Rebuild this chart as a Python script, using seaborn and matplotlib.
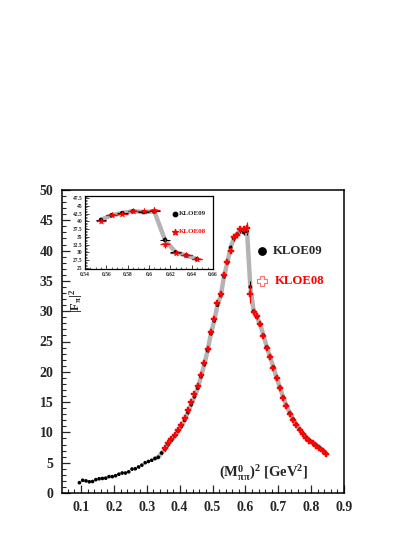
import numpy as np
import pandas as pd
import matplotlib
matplotlib.use("Agg")
import matplotlib.pyplot as plt
import seaborn as sns
from matplotlib.ticker import MultipleLocator, FixedLocator

# ---- data ----
x_low = [0.095, 0.105, 0.115, 0.125, 0.135, 0.145, 0.155, 0.165, 0.175, 0.185,
         0.195, 0.205, 0.215, 0.225, 0.235, 0.245, 0.255, 0.265, 0.275, 0.285,
         0.295, 0.305, 0.315, 0.325, 0.335, 0.345]
f09_low = [1.7, 2.1, 2.0, 1.85, 1.9, 2.2, 2.35, 2.4, 2.45, 2.7,
           2.7, 2.85, 3.1, 3.3, 3.3, 3.5, 3.95, 4.0, 4.3, 4.6,
           5.0, 5.2, 5.4, 5.7, 5.9, 6.6]

x_high = [0.355, 0.365, 0.375, 0.385, 0.395, 0.405, 0.415, 0.425, 0.435, 0.445,
          0.455, 0.465, 0.475, 0.485, 0.495, 0.505, 0.515, 0.525, 0.535, 0.545,
          0.555, 0.565, 0.575, 0.585, 0.595, 0.605, 0.615, 0.625, 0.635, 0.645,
          0.655, 0.665, 0.675, 0.685, 0.695, 0.705, 0.715, 0.725, 0.735, 0.745,
          0.755, 0.765, 0.775, 0.785, 0.795, 0.805, 0.815, 0.825, 0.835, 0.845]
f08_high = [7.4, 8.2, 8.9, 9.6, 10.4, 11.3, 12.4, 13.7, 15.0, 16.3,
            17.6, 19.5, 21.4, 23.8, 26.6, 28.7, 31.3, 32.8, 36.0, 38.2,
            40.0, 42.2, 42.5, 43.5, 43.5, 43.7, 32.8, 29.8, 29.2, 27.9,
            25.9, 24.0, 22.4, 20.7, 18.9, 17.3, 15.7, 14.3, 13.1, 12.1,
            11.2, 10.4, 9.7, 9.1, 8.6, 8.2, 7.8, 7.4, 7.0, 6.4]
f09_high = [7.2, 8.0, 8.7, 9.4, 10.2, 11.0, 12.0, 13.3, 14.6, 15.9,
            17.3, 19.2, 21.2, 23.5, 26.3, 28.4, 31.0, 32.6, 35.7, 38.0,
            40.5, 42.0, 42.7, 43.3, 43.0, 43.2, 34.0, 30.0, 29.0, 27.8,
            26.0, 24.1, 22.5, 20.8, 19.0, 17.4, 15.8, 14.4, 13.2, 12.2,
            11.3, 10.5, 9.8, 9.2, 8.7, 8.3, 7.9, 7.5, 7.1, 6.5]
err08_high = [0.25] * 20 + [0.4, 0.4, 0.4, 0.5, 0.5, 1.0, 1.5, 0.5, 0.4, 0.4] + [0.25] * 20
err09_high = [0.2] * 20 + [0.4, 0.4, 0.4, 0.4, 0.4, 0.6, 1.0, 0.4, 0.3, 0.3] + [0.2] * 20
err09_low = [0.1] * 26

xticks_main = [0.1, 0.2, 0.3, 0.4, 0.5, 0.6, 0.7, 0.8, 0.9]
yticks_main = [0, 5, 10, 15, 20, 25, 30, 35, 40, 45, 50]
yticks_inset = [25, 27.5, 30, 32.5, 35, 37.5, 40, 42.5, 45, 47.5]
xticks_inset = [0.54, 0.56, 0.58, 0.6, 0.62, 0.64, 0.66]

x09 = x_low + x_high
f09 = f09_low + f09_high
e09 = err09_low + err09_high
df09 = pd.DataFrame({"x": x09, "F": f09, "err": e09})
df08 = pd.DataFrame({"x": x_high, "F": f08_high, "err": err08_high})

# ---- style ----
sns.set_style("white")
plt.rcParams["font.family"] = ["Liberation Serif", "DejaVu Serif"]
plt.rcParams["font.weight"] = "bold"
plt.rcParams["mathtext.fontset"] = "custom"
plt.rcParams["mathtext.rm"] = "Liberation Serif:bold"
plt.rcParams["mathtext.it"] = "Liberation Serif:bold"
plt.rcParams["mathtext.bf"] = "Liberation Serif:bold"

fig = plt.figure(figsize=(4.14, 5.35), dpi=100)
ax = fig.add_axes([62 / 414, 1 - 493 / 535, 282 / 414, 303 / 535])

GRAY = "#b4b4b4"
RED = "#ff0000"


def draw(axis, d09, d08, ms09, ms08, star=False, band_from=0.0):
    band = d09[d09["x"] >= band_from]
    sns.lineplot(data=band, x="x", y="F", ax=axis, color=GRAY, lw=3.2,
                 legend=False, zorder=1, sort=True)
    axis.errorbar(d09["x"], d09["F"], yerr=d09["err"], xerr=0.005 if star else None,
                  fmt="none", ecolor="black", elinewidth=0.8, zorder=2)
    sns.scatterplot(data=d09, x="x", y="F", ax=axis, color="black", s=ms09,
                    edgecolor="none", legend=False, zorder=3)
    axis.errorbar(d08["x"], d08["F"], yerr=d08["err"], xerr=0.005 if star else None,
                  fmt="none", ecolor=RED, elinewidth=0.9, zorder=4)
    sns.scatterplot(data=d08, x="x", y="F", ax=axis, color=RED,
                    marker="*" if star else "P", s=ms08, edgecolor=RED,
                    linewidth=0.3, legend=False, zorder=5)


draw(ax, df09, df08, 7, 22, band_from=0.32)
ax.set_xlim(0.042, 0.9)
ax.set_ylim(0, 50)
ax.xaxis.set_major_locator(FixedLocator(xticks_main))
ax.xaxis.set_minor_locator(MultipleLocator(0.02))
ax.yaxis.set_major_locator(FixedLocator(yticks_main))
ax.yaxis.set_minor_locator(MultipleLocator(1))
ax.set_xticklabels([f"{t:g}" for t in xticks_main])
ax.set_yticklabels([f"{t:g}" for t in yticks_main])
ax.tick_params(axis="both", which="major", direction="in", length=6, width=0.9,
               labelsize=10, top=False, right=False, bottom=True, left=True, pad=6)
ax.tick_params(axis="both", which="minor", direction="in", length=3, width=0.8,
               top=False, right=False, bottom=True, left=True)
for lab in ax.get_xticklabels() + ax.get_yticklabels():
    lab.set_fontweight("bold")
for sp in ax.spines.values():
    sp.set_color("black")
    sp.set_linewidth(1.1)
ax.set_xlabel("")
ax.set_ylabel("")

ax.text(0.715, 0.068, r"(M$^{0}_{\pi\pi}$)$^{2}$ [GeV$^{2}$]", transform=ax.transAxes,
        ha="center", va="center", fontsize=10.5, fontweight="bold")
ax.text(0.052, 0.635, r"|F$_{\pi}$|$^{2}$", transform=ax.transAxes, rotation=90,
        ha="center", va="center", fontsize=9, fontweight="bold")

# main legend
ax.scatter([0.65], [39.9], s=28, color="black", zorder=6)
ax.text(0.684, 39.9, "KLOE09", fontsize=9.2, fontweight="bold", va="center", ha="left")
ax.scatter([0.65], [35.0], s=55, marker="P", facecolor="none", edgecolor="#ff7070",
           linewidths=0.8, zorder=6)
ax.text(0.691, 35.0, "KLOE08", fontsize=9.2, fontweight="bold", va="center", ha="left",
        color=RED)

# ---- inset ----
ins = fig.add_axes([85 / 414, 1 - 269 / 535, 128 / 414, 73 / 535])
i09 = df09[(df09["x"] > 0.55) & (df09["x"] < 0.65)]
i08 = df08[(df08["x"] > 0.55) & (df08["x"] < 0.65)]
draw(ins, i09, i08, 10, 22, star=True)
ins.set_xlim(0.54, 0.66)
ins.set_ylim(24.6, 48.2)
ins.xaxis.set_major_locator(FixedLocator(xticks_inset))
ins.xaxis.set_minor_locator(MultipleLocator(0.005))
ins.yaxis.set_major_locator(FixedLocator(yticks_inset))
ins.yaxis.set_minor_locator(MultipleLocator(0.5))
ins.set_xticklabels([f"{t:g}" for t in xticks_inset])
ins.set_yticklabels([f"{t:g}" for t in yticks_inset])
ins.tick_params(axis="both", which="major", direction="in", length=3, width=0.6,
                labelsize=4, top=False, right=False, bottom=True, left=True, pad=2)
ins.tick_params(axis="both", which="minor", direction="in", length=1.5, width=0.5,
                top=False, right=False, bottom=True, left=True)
for sp in ins.spines.values():
    sp.set_color("black")
    sp.set_linewidth(0.9)
ins.set_xlabel("")
ins.set_ylabel("")
ins.scatter([0.624], [42.4], s=10, color="black", zorder=6)
ins.text(0.628, 42.4, "KLOE09", fontsize=5, fontweight="bold", va="center", ha="left")
ins.scatter([0.624], [36.6], s=18, marker="*", color=RED, zorder=6)
ins.text(0.628, 36.6, "KLOE08", fontsize=5, fontweight="bold", va="center", ha="left",
         color=RED)

fig.savefig("out.png", dpi=100)
